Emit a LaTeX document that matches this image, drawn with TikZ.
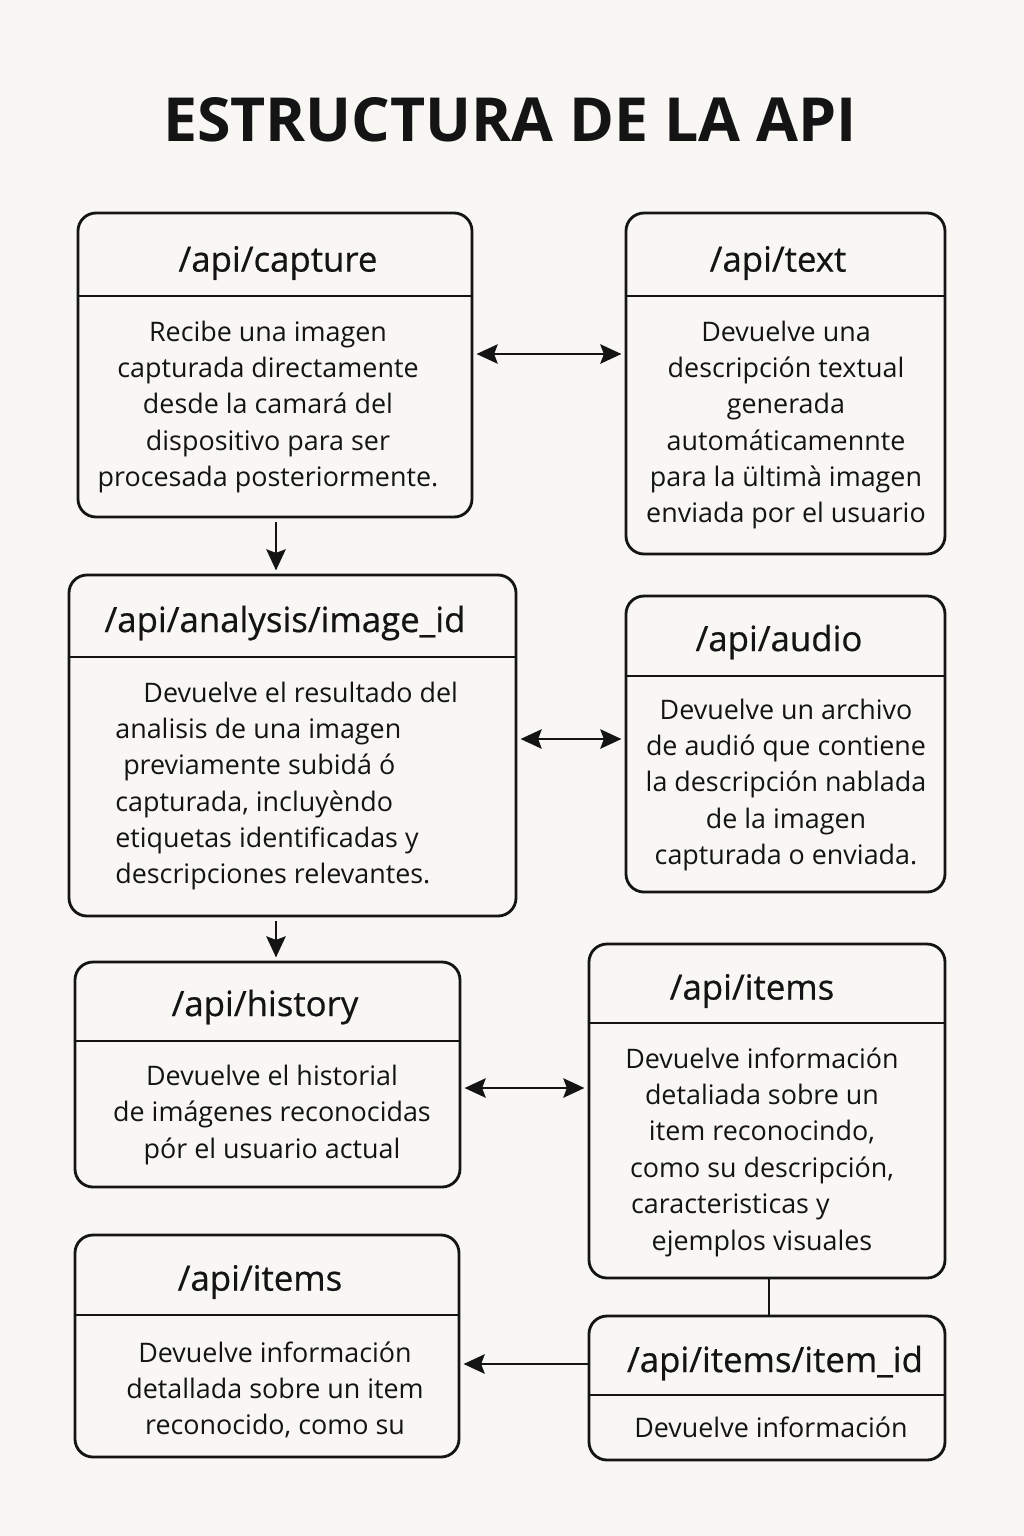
\documentclass[tikz,border=0pt]{standalone}
\usepackage{fontspec}
\setmainfont{Open Sans}
\newfontfamily\hdrfont[FakeBold=0.6]{Open Sans}
\usepackage{xcolor}
\usepackage{tikz}
\usetikzlibrary{arrows.meta,positioning,calc,fit}
\definecolor{paper}{HTML}{F8F7F4}
\definecolor{ink}{HTML}{141414}

\begin{document}
\begin{tikzpicture}[x=0.02cm,y=-0.02cm,>={Stealth[length=12pt,width=11pt,inset=2pt]},
  apibox/.style={draw=ink,line width=1.6pt,rounded corners=0.36cm,inner sep=0pt,fit={#1}},
  hdr/.style={font=\hdrfont\fontsize{19.8}{24}\selectfont,text=ink,inner sep=0pt},
  body/.style={font=\fontsize{15.3}{20.7}\selectfont,text=ink,align=center,inner sep=0pt},
  split/.style={draw=ink,line width=1.4pt},
  link/.style={draw=ink,line width=1.5pt,shorten <=1.8pt,shorten >=1.8pt}]
% --- page ---
\fill[paper] (0,0) rectangle (1024,1536);
\useasboundingbox (0,0) rectangle (1024,1536);
\node[font=\fontsize{34.6}{40}\selectfont\bfseries,text=ink] (title) at (510,120) {ESTRUCTURA DE LA API};
% --- boxes with header line ---
\foreach \n/\xa/\ya/\xb/\yb/\yd in {cap/78/213/472/517/296, txt/626/213/945/554/296,
    ana/69/575/516/916/657, aud/626/596/945/892/676, hist/75/962/460/1187/1041,
    itR/589/944/945/1278/1023, itL/75/1235/459/1457/1315, itid/589/1316/945/1460/1395} {
  \node[apibox={(\xa,\ya) (\xb,\yb)}] (\n) {};
  \draw[split] (\n.west |- 0,\yd) -- (\n.east |- 0,\yd);
}
% --- headers ---
\node[hdr] (capT) at (278,263) {/api/capture};
\node[hdr] (txtT) at (778,263) {/api/text};
\node[hdr] (anaT) at (285,623) {/api/analysis/image\_id};
\node[hdr] (audT) at (779,642) {/api/audio};
\node[hdr] (histT) at (265,1007) {/api/history};
\node[hdr] (itRT) at (752,991) {/api/items};
\node[hdr] (itLT) at (260,1282) {/api/items};
\node[hdr] (itidT) at (775,1363) {/api/items/item\_id};
% --- descriptions ---
\node[body] (capB) at (268,407) {Recibe una imagen\\capturada directamente\\desde la camará del\\dispositivo para ser\\procesada posteriormente.};
\node[body] (txtB) at (786,425) {Devuelve una\\descripción textual\\generada\\automáticamennte\\para la ültimà imagen\\enviada por el usuario};
\node[body,align=left,anchor=west] (anaB) at (115,786) {\hspace*{16pt}Devuelve el resultado del\\analisis de una imagen\\\hspace*{4.5pt}previamente subidá ó\\capturada, incluyèndo\\etiquetas identificadas y\\descripciones relevantes.};
\node[body] (audB) at (786,785) {Devuelve un archivo\\de audió que contiene\\la descripción nablada\\de la imagen\\capturada o enviada.};
\node[body] (histB) at (272,1115) {Devuelve el historial\\de imágenes reconocidas\\pór el usuario actual};
\node[body] (itRB) at (762,1152) {Devuelve información\\detaliada sobre un\\item reconocindo,\\como su descripción,\\caracteristicas y\hspace*{36pt}\strut\\ejemplos visuales};
\node[body] (itLB) at (275,1390) {Devuelve información\\detallada sobre un item\\reconocido, como su};
\node[body] (itidB) at (771,1427) {Devuelve información};
% --- connectors ---
\draw[link,<->] (cap.east |- 0,354) -- (txt.west |- 0,354);
\draw[link,->] (cap.south -| 276,0) -- (ana.north -| 276,0);
\draw[link,<->] (ana.east |- 0,739) -- (aud.west |- 0,739);
\draw[link,->] (ana.south -| 276,0) -- (hist.north -| 276,0);
\draw[link,<->] (hist.east |- 0,1088) -- (itR.west |- 0,1088);
\draw[link,shorten <=0pt,shorten >=0pt] (itR.south -| 769,0) -- (itid.north -| 769,0);
\draw[link,->,shorten <=0pt] (itid.west |- 0,1364) -- (itL.east |- 0,1364);
\end{tikzpicture}
\end{document}
